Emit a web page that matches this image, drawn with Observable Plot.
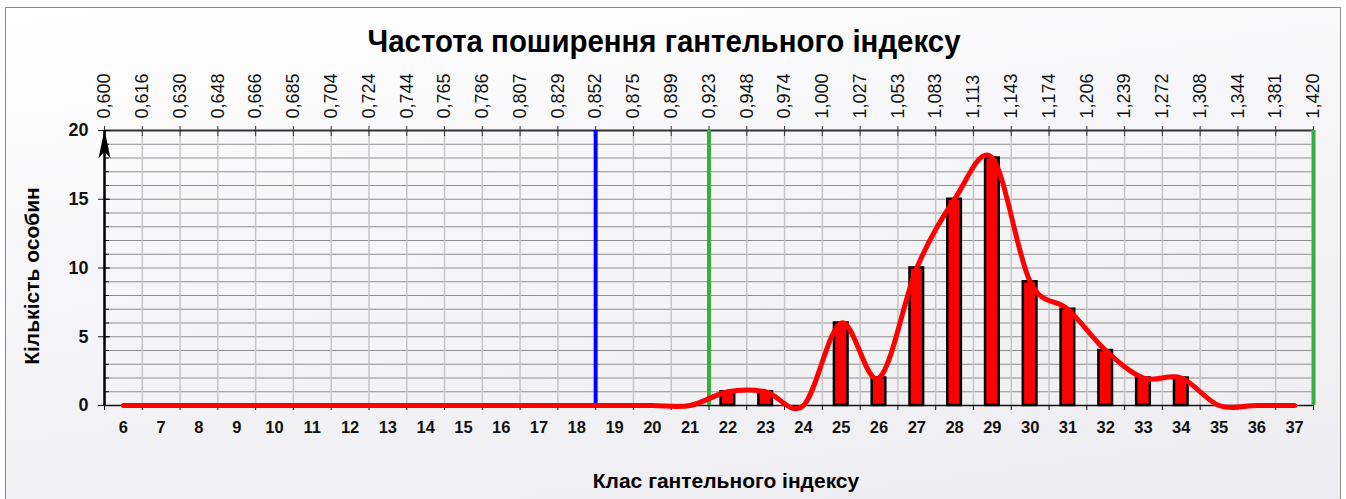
<!DOCTYPE html>
<html><head><meta charset="utf-8">
<script src="https://cdn.jsdelivr.net/npm/d3@7"></script>
<script src="https://cdn.jsdelivr.net/npm/@observablehq/plot@0.6"></script>
<style>
body{margin:0;width:1346px;height:499px;overflow:hidden;background:#fff;}
#frame{position:absolute;left:5px;top:7px;width:1336px;height:520px;border:1.5px solid #8a8a8a;box-sizing:border-box;
background:linear-gradient(172deg,#ffffff 0%,#f7f7f9 35%,#ecebef 100%);}
#chart{position:absolute;left:0;top:0;}
</style></head>
<body>
<div id="frame"></div>
<div id="chart"></div>
<script>
const title = "Частота поширення гантельного індексу";
const yTitle = "Кількість особин";
const xTitle = "Клас гантельного індексу";

const classes = [6,7,8,9,10,11,12,13,14,15,16,17,18,19,20,21,22,23,24,25,26,27,28,29,30,31,32,33,34,35,36,37];
const counts  = [0,0,0,0,0,0,0,0,0,0,0,0,0,0,0,0,1,1,0,6,2,10,15,18,9,7,4,2,2,0,0,0];
const topLabels = ["0,600","0,616","0,630","0,648","0,666","0,685","0,704","0,724","0,744","0,765","0,786","0,807","0,829","0,852","0,875","0,899","0,923","0,948","0,974","1,000","1,027","1,053","1,083","1,113","1,143","1,174","1,206","1,239","1,272","1,308","1,344","1,381","1,420"];
const yMajor = [0,5,10,15,20];
const yMinor = [0,1,2,3,4,5,6,7,8,9,10,11,12,13,14,15,16,17,18,19,20];
const markerLabels = ["0,852","0,923","1,420"];
const markerColors = ["#0000ff","#35b03c","#35b03c"];

const data = classes.map((c,i)=>({cls:c, count:counts[i]}));
const start = classes[0] - 0.5;
const bounds = topLabels.map((l,i)=>({label:l, pos:start + i}));
const boundPos = bounds.map(b=>b.pos);
const markers = markerLabels.map((l,i)=>({pos: start + topLabels.indexOf(l), color: markerColors[i]}));

const font = "'Liberation Sans', Arial, sans-serif";

// narrow filled arrowhead (tip at the dot position)
const arrowHead = {draw(ctx) { ctx.moveTo(0, -1); ctx.lineTo(6, 28); ctx.lineTo(0, 21); ctx.lineTo(-6, 28); ctx.closePath(); }};

const chart = Plot.plot({
  width: 1346, height: 499,
  marginTop: 130, marginBottom: 94, marginLeft: 104, marginRight: 33,
  style: {background: "transparent", fontFamily: font, overflow: "visible"},
  x: {type: "linear", domain: [start, start + classes.length], axis: null},
  y: {domain: [0, 20], axis: null},
  marks: [
    Plot.ruleY(yMinor, {stroke: "#8f8f8f", strokeWidth: 1}),
    Plot.ruleX(boundPos, {stroke: "#c6c6c6", strokeWidth: 1.5}),
    Plot.ruleY([20], {stroke: "#333", strokeWidth: 2}),
    Plot.ruleY([0], {stroke: "#111", strokeWidth: 1.5}),
    // top axis ticks & labels
    Plot.axisX({anchor: "top", ticks: boundPos, tickSize: 10, dy: 5, fill: "none", stroke: "#333", label: null}),
    Plot.text(bounds, {x: "pos", text: "label", frameAnchor: "top", rotate: -90, textAnchor: "start", lineAnchor: "middle", dy: -12, fontSize: 18, fill: "#111"}),
    // bottom axis
    Plot.axisX({anchor: "bottom", ticks: boundPos, tickSize: 5, fill: "none", stroke: "#111", label: null}),
    Plot.axisX({anchor: "bottom", ticks: classes, tickSize: 0, tickPadding: 16, fontSize: 16.5, fontWeight: "bold", fill: "#111", tickFormat: d => String(d), label: null}),
    // y axis
    Plot.axisY({anchor: "left", ticks: yMinor, tickSize: 5, dx: 5, fill: "none", stroke: "#111", label: null}),
    Plot.axisY({anchor: "left", ticks: yMajor, tickSize: 12, dx: 6, fill: "none", stroke: "#111", label: null}),
    Plot.axisY({anchor: "left", ticks: yMajor, tickSize: 0, tickPadding: 16, fontSize: 18, fontWeight: "bold", fill: "#111", tickFormat: d => String(d), label: null}),
    // markers
    Plot.ruleX(markers, {x: "pos", stroke: "color", strokeWidth: 4}),
    // bars
    Plot.rectY(data, {filter: d => d.count > 0, x1: d => d.cls - 0.18, x2: d => d.cls + 0.18, y1: 0, y2: "count", fill: "#ff0000", stroke: "#000", strokeWidth: 2.5}),
    // smooth curve
    Plot.line(data, {x: "cls", y: "count", curve: "cardinal", stroke: "#ff0000", strokeWidth: 5, strokeLinecap: "round"}),
    // y axis line with arrowhead
    Plot.ruleX([start], {y1: 0, y2: 20, stroke: "#000", strokeWidth: 2.5}),
    Plot.dot([start], {x: d => d, y: yMajor[yMajor.length - 1], symbol: arrowHead, fill: "#000", stroke: "none"}),
    // titles
    Plot.text([title], {frameAnchor: "top", dx: -45, dy: -79, lineAnchor: "bottom", fontSize: 32, fontWeight: "bold", fill: "#000", className: "main-title"}),
    Plot.text([yTitle], {frameAnchor: "left", rotate: -90, textAnchor: "middle", dx: -72, dy: 8, lineAnchor: "middle", fontSize: 21, fontWeight: "bold", fill: "#000"}),
    Plot.text([xTitle], {frameAnchor: "bottom", textAnchor: "middle", dx: 17, dy: 82, lineAnchor: "bottom", fontSize: 21, fontWeight: "bold", fill: "#000"})
  ]
});
// condense the title like a narrow face
d3.select(chart).selectAll("g.main-title text").attr("textLength", 593).attr("lengthAdjust", "spacingAndGlyphs");
document.getElementById("chart").appendChild(chart);
</script>
</body></html>
